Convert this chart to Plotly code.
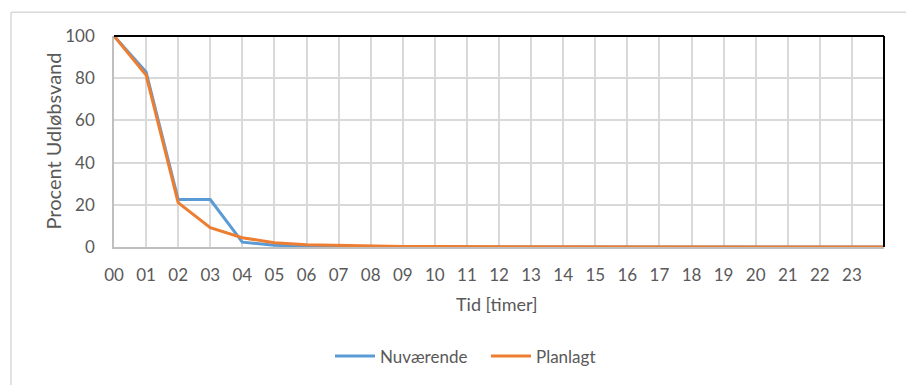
import plotly.graph_objects as go

# Hourly categories (00..23) plus the closing point at 24
hours = list(range(25))
tick_labels = [f"{h:02d}" for h in range(24)]

nuvaerende = [100, 83, 22.5, 22.5, 2.3, 0.8, 0.4, 0.2, 0.1, 0, 0, 0, 0, 0, 0, 0, 0, 0, 0, 0, 0, 0, 0, 0, 0]
planlagt = [100, 81.5, 21, 9.2, 4.4, 2.0, 1.1, 0.7, 0.3, 0.2, 0.2, 0.2, 0.2, 0.2, 0.2, 0.2, 0.2, 0.2, 0.2, 0.2, 0.2, 0.2, 0.2, 0, 0]

BLUE = "#5B9BD5"
ORANGE = "#ED7D31"
GRID = "#d9d9d9"
TEXT = "#595959"
FONT = "Lato, 'Open Sans', sans-serif"

W, H = 906, 386
ML, MR, MT, MB = 114, 22, 36, 136
PW, PH = W - ML - MR, H - MT - MB


def px_x(x):
    return (x - ML) / PW


def px_y(y):
    return (H - MB - y) / PH


fig = go.Figure()
fig.add_trace(go.Scatter(x=hours, y=nuvaerende, name="Nuværende", mode="lines",
                         line=dict(color=BLUE, width=3)))
fig.add_trace(go.Scatter(x=hours, y=planlagt, name="Planlagt", mode="lines",
                         line=dict(color=ORANGE, width=3)))

fig.update_layout(
    width=W, height=H,
    margin=dict(l=ML, r=MR, t=MT, b=MB),
    paper_bgcolor="white", plot_bgcolor="white",
    font=dict(family=FONT, color=TEXT, size=17),
    showlegend=True,
    legend=dict(orientation="h", x=px_x(330), xanchor="left", y=px_y(361), yanchor="middle",
                font=dict(size=17, color=TEXT), itemwidth=40, traceorder="normal",
                entrywidth=101, entrywidthmode="pixels"),
    xaxis=dict(range=[0, 24], tickmode="array", tickvals=list(range(24)), ticktext=tick_labels,
               showgrid=True, gridcolor=GRID, gridwidth=2, zeroline=False,
               showline=True, linecolor="#bfbfbf", linewidth=1.5,
               ticks="", ticklabelstandoff=12, tickfont=dict(size=17, color=TEXT)),
    yaxis=dict(range=[0, 100], tickvals=[0, 20, 40, 60, 80, 100],
               showgrid=True, gridcolor=GRID, gridwidth=2, zeroline=False,
               showline=True, linecolor="#bfbfbf", linewidth=1.5,
               ticks="", ticklabelstandoff=14, tickfont=dict(size=17, color=TEXT)),
    shapes=[
        # dark border on the top and right of the plot area
        dict(type="line", xref="paper", yref="paper", x0=0, x1=1, y0=1, y1=1,
             line=dict(color="black", width=2), layer="above"),
        dict(type="line", xref="paper", yref="paper", x0=1, x1=1, y0=0, y1=1,
             line=dict(color="black", width=2), layer="above"),
        # outer chart frame
        dict(type="line", xref="paper", yref="paper", x0=px_x(11), x1=px_x(11),
             y0=px_y(12), y1=px_y(390), line=dict(color=GRID, width=1.5)),
        dict(type="line", xref="paper", yref="paper", x0=px_x(11), x1=px_x(910),
             y0=px_y(12), y1=px_y(12), line=dict(color=GRID, width=1.5)),
    ],
    annotations=[
        dict(text="Tid [timer]", xref="paper", yref="paper", x=px_x(497), y=px_y(308),
             xanchor="center", yanchor="middle", showarrow=False,
             font=dict(size=18, color=TEXT)),
        dict(text="Procent Udløbsvand", xref="paper", yref="paper", x=px_x(52), y=px_y(143),
             xanchor="center", yanchor="middle", textangle=-90, showarrow=False,
             font=dict(size=20, color=TEXT)),
    ],
)

fig.write_html("out.html")
